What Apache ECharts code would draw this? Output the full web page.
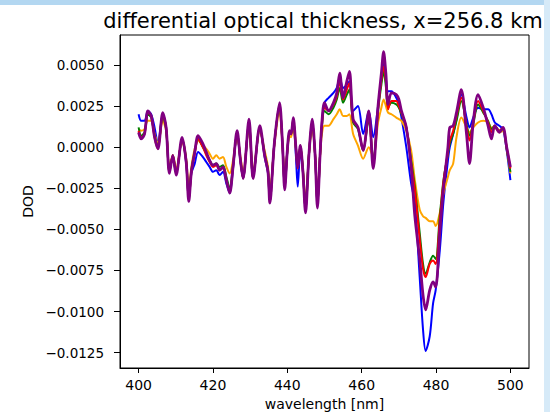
<!DOCTYPE html>
<html>
<head>
<meta charset="utf-8">
<script src="https://cdn.jsdelivr.net/npm/echarts@6/dist/echarts.min.js"></script>
<style>
html,body{margin:0;padding:0;background:#fff;}
#chart{width:550px;height:412px;}
</style>
</head>
<body>
<div id="chart"></div>
<script>
// wavelength sample points [nm]
const wavelength = [
  400.0, 400.7, 401.6, 402.5, 403.4, 404.3, 405.2, 406.5, 407.4, 408.3,
  409.2, 410.1, 411.7, 412.8, 413.5, 414.2, 415.1, 416.0, 417.3, 418.2,
  419.1, 420.0, 420.9, 421.8, 422.7, 423.6, 424.5, 425.4, 426.5, 427.4,
  428.1, 429.7, 430.8, 432.6, 433.9, 434.8, 435.3, 436.5, 437.9, 438.7,
  439.3, 440.0, 440.6, 441.0, 441.6, 442.3, 442.8, 443.5, 444.2, 444.9,
  445.8, 446.7, 447.5, 448.1, 448.8, 449.3, 450.0, 451.1, 452.4, 453.3,
  454.1, 455.0, 456.0, 456.7, 457.7, 459.0, 460.4, 461.9, 463.1, 464.4,
  465.3, 465.9, 466.5, 467.1, 468.0, 469.3, 470.0, 470.7, 472.0, 473.3,
  474.3, 475.6, 476.5, 477.2, 478.3, 479.2, 479.9, 481.0, 482.0, 483.2,
  483.7, 484.6, 485.5, 486.8, 488.2, 489.0, 490.0, 491.3, 492.7, 494.0,
  494.9, 495.8, 497.0, 498.0, 499.0, 500.0
];
const dodBlue = [
  0.0020, 0.0016, 0.0016, 0.0022, 0.0020, 0.0012, 0.0002, 0.0020, 0.0012, -0.0014,
  -0.0006, -0.0016, 0.0005, -0.0010, -0.0032, -0.0016, -0.0010, -0.0003, -0.0006, -0.0009,
  -0.0012, -0.0015, -0.0014, -0.0017, -0.0015, -0.0022, -0.0028, -0.0013, 0.0009, -0.0009,
  -0.0019, 0.0016, -0.0019, 0.0012, -0.0006, -0.0016, -0.0033, 0.0002, 0.0026, 0.0001,
  -0.0025, -0.0003, 0.0009, 0.0008, 0.0017, -0.0005, -0.0024, -0.0002, -0.0015, -0.0039,
  -0.0005, 0.0016, -0.0006, -0.0036, -0.0005, 0.0015, 0.0027, 0.0030, 0.0033, 0.0036,
  0.0042, 0.0036, 0.0038, 0.0040, 0.0022, 0.0025, 0.0008, 0.0022, 0.0006, 0.0025,
  0.0042, 0.0053, 0.0042, 0.0034, 0.0034, 0.0030, 0.0026, 0.0018, 0.0000, -0.0022,
  -0.0034, -0.0079, -0.0111, -0.0124, -0.0115, -0.0095, -0.0087, -0.0063, -0.0033, -0.0008,
  0.0000, 0.0008, 0.0017, 0.0032, 0.0018, 0.0012, 0.0018, 0.0024, 0.0023, 0.0023,
  0.0020, 0.0015, 0.0013, 0.0011, -0.0002, -0.0020
];
const dodOrange = [
  0.0011, 0.0010, 0.0011, 0.0016, 0.0016, 0.0008, 0.0002, 0.0016, 0.0010, -0.0012,
  -0.0005, -0.0013, 0.0004, -0.0007, -0.0026, -0.0012, -0.0001, 0.0004, 0.0001, -0.0001,
  -0.0004, -0.0007, -0.0005, -0.0007, -0.0006, -0.0012, -0.0016, -0.0008, 0.0007, -0.0006,
  -0.0015, 0.0013, -0.0015, 0.0010, -0.0002, -0.0012, -0.0028, 0.0001, 0.0021, 0.0001,
  -0.0021, -0.0003, 0.0007, 0.0006, 0.0013, -0.0001, -0.0010, 0.0000, -0.0013, -0.0033,
  -0.0005, 0.0012, -0.0005, -0.0030, -0.0006, 0.0008, 0.0013, 0.0013, 0.0017, 0.0020,
  0.0023, 0.0019, 0.0019, 0.0020, 0.0008, 0.0001, -0.0007, 0.0000, -0.0006, 0.0015,
  0.0024, 0.0029, 0.0025, 0.0021, 0.0020, 0.0018, 0.0017, 0.0016, 0.0010, -0.0002,
  -0.0020, -0.0038, -0.0042, -0.0043, -0.0045, -0.0045, -0.0048, -0.0040, -0.0028, -0.0018,
  -0.0014, -0.0010, 0.0006, 0.0018, 0.0012, 0.0009, 0.0012, 0.0015, 0.0016, 0.0015,
  0.0012, 0.0012, 0.0009, 0.0010, -0.0001, -0.0016
];
const dodGreen = [
  0.0012, 0.0007, 0.0009, 0.0020, 0.0018, 0.0007, 0.0000, 0.0019, 0.0011, -0.0015,
  -0.0005, -0.0016, 0.0005, -0.0008, -0.0031, -0.0014, -0.0003, 0.0005, 0.0000, -0.0004,
  -0.0008, -0.0011, -0.0010, -0.0012, -0.0011, -0.0018, -0.0025, -0.0011, 0.0009, -0.0008,
  -0.0018, 0.0015, -0.0018, 0.0012, -0.0004, -0.0014, -0.0032, 0.0002, 0.0025, 0.0002,
  -0.0024, -0.0002, 0.0009, 0.0008, 0.0016, 0.0000, -0.0012, 0.0001, -0.0014, -0.0038,
  -0.0005, 0.0015, -0.0006, -0.0035, -0.0005, 0.0012, 0.0022, 0.0020, 0.0024, 0.0029,
  0.0036, 0.0027, 0.0032, 0.0035, 0.0015, 0.0011, -0.0002, 0.0017, -0.0008, 0.0022,
  0.0038, 0.0046, 0.0037, 0.0024, 0.0027, 0.0026, 0.0024, 0.0020, 0.0012, -0.0008,
  -0.0024, -0.0052, -0.0071, -0.0077, -0.0070, -0.0066, -0.0068, -0.0042, -0.0020, -0.0004,
  0.0002, 0.0008, 0.0016, 0.0028, 0.0014, 0.0007, 0.0014, 0.0026, 0.0021, 0.0016,
  0.0011, 0.0013, 0.0010, 0.0011, -0.0001, -0.0015
];
const dodRed = [
  0.0010, 0.0006, 0.0008, 0.0021, 0.0019, 0.0006, -0.0001, 0.0020, 0.0012, -0.0015,
  -0.0005, -0.0016, 0.0005, -0.0009, -0.0032, -0.0015, -0.0004, 0.0005, 0.0000, -0.0005,
  -0.0009, -0.0012, -0.0011, -0.0014, -0.0012, -0.0020, -0.0027, -0.0012, 0.0009, -0.0008,
  -0.0019, 0.0016, -0.0019, 0.0012, -0.0005, -0.0015, -0.0033, 0.0002, 0.0026, 0.0002,
  -0.0025, -0.0002, 0.0009, 0.0008, 0.0017, 0.0000, -0.0013, 0.0001, -0.0015, -0.0039,
  -0.0005, 0.0016, -0.0006, -0.0036, -0.0005, 0.0013, 0.0024, 0.0022, 0.0026, 0.0031,
  0.0040, 0.0029, 0.0035, 0.0039, 0.0016, 0.0012, -0.0002, 0.0019, -0.0010, 0.0023,
  0.0041, 0.0049, 0.0040, 0.0023, 0.0028, 0.0028, 0.0025, 0.0021, 0.0012, -0.0010,
  -0.0026, -0.0056, -0.0074, -0.0079, -0.0071, -0.0069, -0.0071, -0.0045, -0.0021, -0.0003,
  0.0004, 0.0010, 0.0019, 0.0030, 0.0012, 0.0004, 0.0015, 0.0028, 0.0022, 0.0015,
  0.0009, 0.0013, 0.0010, 0.0012, 0.0000, -0.0013
];
const dodPurple = [
  0.0009, 0.0005, 0.0008, 0.0022, 0.0019, 0.0006, -0.0001, 0.0021, 0.0012, -0.0016,
  -0.0005, -0.0017, 0.0006, -0.0009, -0.0033, -0.0015, -0.0003, 0.0007, 0.0002, -0.0003,
  -0.0008, -0.0011, -0.0010, -0.0014, -0.0012, -0.0020, -0.0028, -0.0012, 0.0010, -0.0008,
  -0.0019, 0.0017, -0.0019, 0.0013, -0.0005, -0.0015, -0.0034, 0.0002, 0.0027, 0.0002,
  -0.0026, -0.0002, 0.0010, 0.0008, 0.0018, 0.0000, -0.0012, 0.0001, -0.0015, -0.0040,
  -0.0005, 0.0017, -0.0006, -0.0037, -0.0005, 0.0015, 0.0027, 0.0022, 0.0027, 0.0033,
  0.0045, 0.0030, 0.0040, 0.0046, 0.0017, 0.0012, -0.0002, 0.0022, -0.0013, 0.0025,
  0.0045, 0.0058, 0.0045, 0.0026, 0.0033, 0.0032, 0.0029, 0.0022, 0.0012, -0.0012,
  -0.0042, -0.0068, -0.0090, -0.0099, -0.0087, -0.0082, -0.0085, -0.0052, -0.0025, 0.0000,
  0.0012, 0.0013, 0.0021, 0.0035, 0.0008, -0.0010, 0.0015, 0.0032, 0.0024, 0.0013,
  0.0005, 0.0013, 0.0009, 0.0012, 0.0000, -0.0012
];
const xTicks = [400, 420, 440, 460, 480, 500];
const yTicks = [-0.0125, -0.0100, -0.0075, -0.0050, -0.0025, 0.0000, 0.0025, 0.0050];
const titleText = 'differential optical thickness, x=256.8 km';

const seriesDefs = [
  {name: 'blue', data: dodBlue, color: '#0000ff', width: 2},
  {name: 'orange', data: dodOrange, color: '#ffa500', width: 2},
  {name: 'green', data: dodGreen, color: '#008000', width: 2},
  {name: 'red', data: dodRed, color: '#ff0000', width: 2},
  {name: 'purple', data: dodPurple, color: '#800080', width: 2.8}
];

const chart = echarts.init(document.getElementById('chart'), null, {renderer: 'svg'});
const fmtY = v => (v < 0 ? '\u2212' : '') + Math.abs(v).toFixed(4);
chart.setOption({
  animation: false,
  backgroundColor: '#ffffff',
  grid: {left: 120, right: 21, top: 35, bottom: 44, outerBoundsMode: 'none', containLabel: false,
         show: true, borderColor: '#000', borderWidth: 1, backgroundColor: 'transparent'},
  graphic: [
    {type: 'rect', shape: {x: 0, y: 0, width: 550, height: 5}, style: {fill: '#b3d7f1'}, z: -1},
    {type: 'rect', shape: {x: 544, y: 0, width: 6, height: 412}, style: {fill: '#d6eaf8'}, z: -1},
    {type: 'text', x: 323, y: 21, style: {text: titleText, fontFamily: 'DejaVu Sans', fontSize: 21, fill: '#000', textAlign: 'center', textVerticalAlign: 'middle'}}
  ],
  xAxis: {
    type: 'value', min: 395, max: 505,
    name: 'wavelength [nm]', nameLocation: 'middle', nameGap: 28,
    nameTextStyle: {fontFamily: 'DejaVu Sans', fontSize: 14, color: '#000'},
    axisLine: {show: true, onZero: false, lineStyle: {color: '#000', width: 1}},
    axisTick: {show: true, length: 5, customValues: xTicks, lineStyle: {color: '#000'}},
    axisLabel: {customValues: xTicks, fontFamily: 'DejaVu Sans', fontSize: 14, color: '#000', margin: 10},
    splitLine: {show: false}
  },
  yAxis: {
    type: 'value', min: -0.01343, max: 0.00682,
    name: 'DOD', nameLocation: 'middle', nameGap: 82,
    nameTextStyle: {fontFamily: 'DejaVu Sans', fontSize: 14, color: '#000'},
    axisLine: {show: true, onZero: false, lineStyle: {color: '#000', width: 1}},
    axisTick: {show: true, length: 6, customValues: yTicks, lineStyle: {color: '#000'}},
    axisLabel: {customValues: yTicks, formatter: fmtY, fontFamily: 'DejaVu Sans', fontSize: 13.5, color: '#000', margin: 16},
    splitLine: {show: false}
  },
  series: seriesDefs.map(s => ({
    name: s.name, type: 'line', showSymbol: false, smooth: 0.3,
    data: wavelength.map((w, i) => [w, s.data[i]]),
    lineStyle: {color: s.color, width: s.width},
    itemStyle: {color: s.color}
  }))
});
</script>
</body>
</html>
